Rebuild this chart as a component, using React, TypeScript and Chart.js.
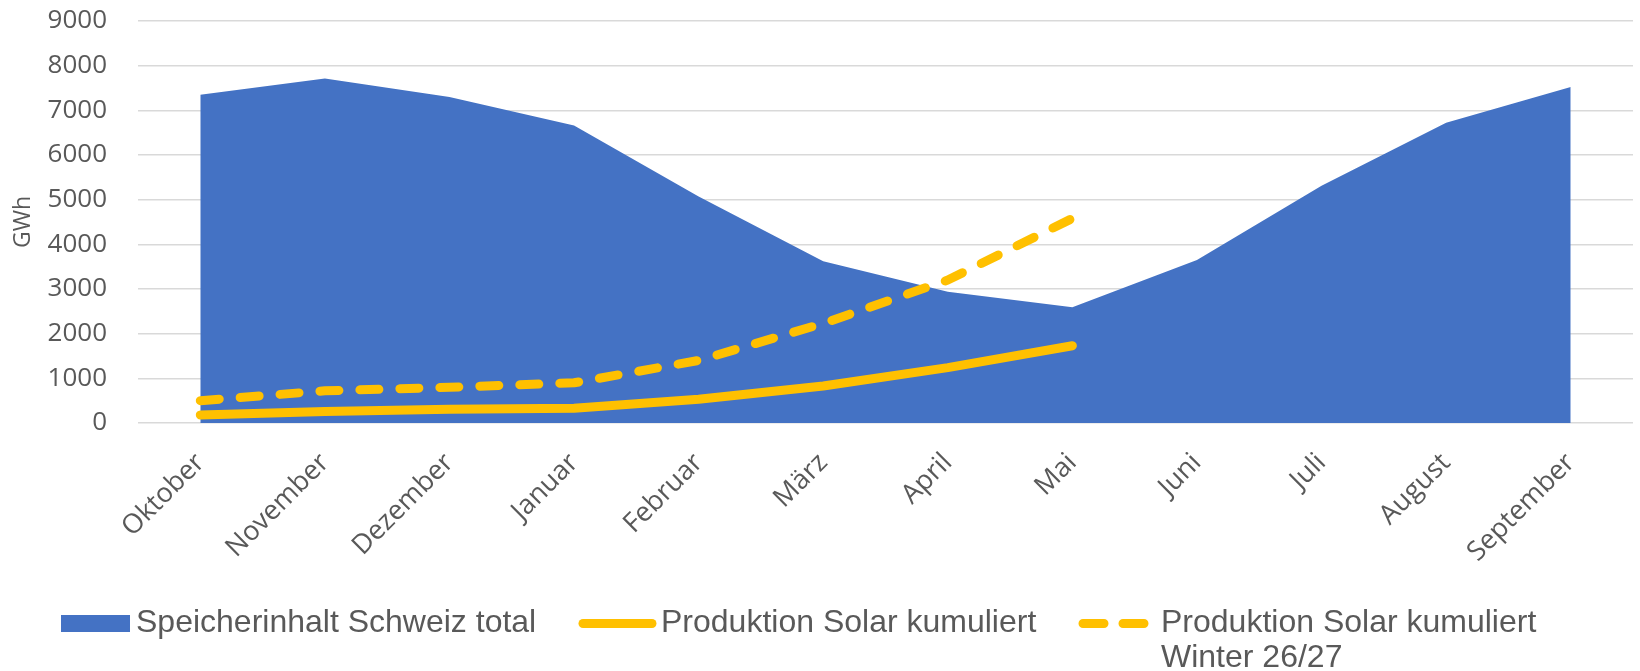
import React, { useEffect, useRef } from "react";
import { Chart, registerables } from "chart.js";

Chart.register(...registerables);

const months = ["Oktober", "November", "Dezember", "Januar", "Februar", "März", "April", "Mai", "Juni", "Juli", "August", "September"];
const speicherinhalt = [7350, 7710, 7300, 6660, 5070, 3620, 2940, 2590, 3650, 5310, 6720, 7520];
const solarKumuliert = [180, 260, 310, 330, 530, 830, 1240, 1730, null, null, null, null];
const solarWinter = [500, 720, 800, 900, 1400, 2230, 3200, 4580, null, null, null, null];
const yTicks = [0, 1000, 2000, 3000, 4000, 5000, 6000, 7000, 8000, 9000];

const seriesLabels = ["Speicherinhalt Schweiz total", "Produktion Solar kumuliert", "Produktion Solar kumuliert Winter 26/27"];

const BLUE = "#4472C4";
const GOLD = "#FFC000";
const TEXT = "#595959";
const GRID = "#D9D9D9";

const legendPlugin = {
  id: "customLegend",
  afterDraw(chart: any) {
    const ctx = chart.ctx;
    const ds = chart.data.datasets;
    ctx.save();
    ctx.font = "32px 'Liberation Sans', Arial, sans-serif";
    ctx.fillStyle = TEXT;
    ctx.textBaseline = "alphabetic";
    ctx.textAlign = "left";
    const symY = 623.5;
    const base = 632;
    const lineH = 35;
    ctx.fillStyle = ds[0].backgroundColor;
    ctx.fillRect(61, 615, 69, 17);
    ctx.fillStyle = TEXT;
    ctx.fillText(ds[0].label, 136, base);
    ctx.strokeStyle = ds[1].borderColor;
    ctx.lineWidth = 9;
    ctx.lineCap = "round";
    ctx.beginPath();
    ctx.moveTo(583, symY);
    ctx.lineTo(652, symY);
    ctx.stroke();
    ctx.fillText(ds[1].label, 661, base);
    ctx.strokeStyle = ds[2].borderColor;
    ctx.beginPath();
    ctx.moveTo(1083, symY);
    ctx.lineTo(1104, symY);
    ctx.moveTo(1123, symY);
    ctx.lineTo(1144, symY);
    ctx.stroke();
    const maxW = chart.width - 1161 - 20;
    const words = String(ds[2].label).split(" ");
    const lines: string[] = [];
    let cur = "";
    for (const w of words) {
      const t = cur ? cur + " " + w : w;
      if (ctx.measureText(t).width > maxW && cur) {
        lines.push(cur);
        cur = w;
      } else cur = t;
    }
    if (cur) lines.push(cur);
    lines.forEach((l, i) => ctx.fillText(l, 1161, base + i * lineH));
    ctx.restore();
  },
};

export default function App() {
  const ref = useRef<HTMLCanvasElement>(null);
  useEffect(() => {
    if (!ref.current) return;
    const chart = new Chart(ref.current, {
      type: "line",
      data: {
        labels: months,
        datasets: [
          {
            label: seriesLabels[0],
            data: speicherinhalt,
            backgroundColor: BLUE,
            borderColor: BLUE,
            borderWidth: 0,
            fill: "origin",
            pointRadius: 0,
            tension: 0,
            order: 3,
          },
          {
            label: seriesLabels[1],
            data: solarKumuliert,
            borderColor: GOLD,
            backgroundColor: GOLD,
            borderWidth: 9,
            borderCapStyle: "round",
            borderJoinStyle: "round",
            fill: false,
            pointRadius: 0,
            tension: 0,
            order: 2,
          },
          {
            label: seriesLabels[2],
            data: solarWinter,
            borderColor: GOLD,
            backgroundColor: GOLD,
            borderWidth: 9,
            borderDash: [19, 21],
            borderCapStyle: "round",
            borderJoinStyle: "round",
            fill: false,
            pointRadius: 0,
            tension: 0,
            order: 1,
          },
        ],
      },
      options: {
        responsive: false,
        animation: false,
        devicePixelRatio: 1,
        layout: { padding: { left: 0, right: 7, top: 21, bottom: 100 } },
        plugins: {
          legend: { display: false },
          tooltip: { enabled: false },
          title: { display: false },
        },
        scales: {
          x: {
            type: "category",
            offset: true,
            grid: { display: false, drawTicks: false },
            border: { display: false },
            ticks: {
              autoSkip: false,
              maxRotation: 45,
              minRotation: 45,
              padding: 24,
              color: TEXT,
              font: { family: "'Open Sans', sans-serif", size: 27 },
            },
            afterFit(scale: any) {
              scale.height = 148;
              scale.paddingRight = 0;
            },
          },
          y: {
            min: 0,
            max: 9000,
            afterBuildTicks(scale: any) {
              scale.ticks = yTicks.map((v) => ({ value: v }));
            },
            grid: { color: GRID, lineWidth: 1.5, drawTicks: false },
            border: { display: false },
            ticks: {
              padding: 31,
              color: TEXT,
              font: { family: "'Open Sans', sans-serif", size: 26 },
              callback: (v: any) => String(v),
            },
            title: {
              display: true,
              text: "GWh",
              color: TEXT,
              font: { family: "'Open Sans', sans-serif", size: 23 },
              padding: { top: 10, bottom: 0 },
            },
            afterFit(scale: any) {
              scale.width = 138;
              scale.paddingTop = 0;
              scale.paddingBottom = 0;
            },
          },
        },
      },
      plugins: [legendPlugin],
    });
    return () => chart.destroy();
  }, []);
  return (
    <div style={{ position: "fixed", left: 0, top: 0, width: 1640, height: 671, background: "#fff" }}>
      <canvas ref={ref} width={1640} height={671} style={{ display: "block" }} />
    </div>
  );
}
